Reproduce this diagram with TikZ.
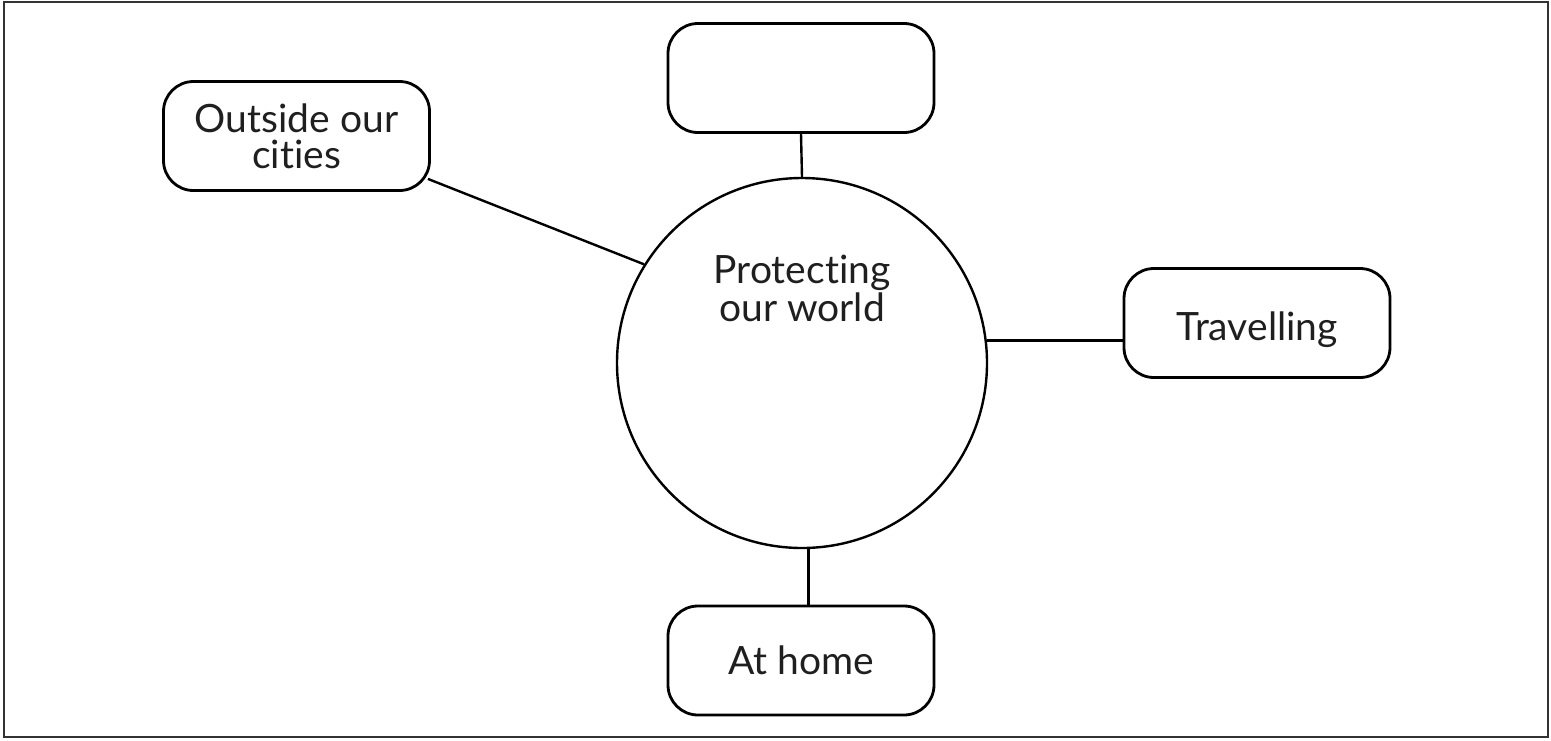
\documentclass[tikz,border=0pt]{standalone}
\usepackage{fontspec}
\setmainfont{Lato}[Ligatures={NoCommon,NoRare}]
\begin{document}
\begin{tikzpicture}[x=1pt,y=-1pt,
  lbl/.style={font=\fontsize{39}{36}\selectfont, text=black!88, align=center},
  bubble/.style={draw, line width=2.8pt, rounded corners=30pt, minimum width=266pt, minimum height=109pt, inner sep=0pt, lbl},
  conn/.style={line width=2.4pt}]
\useasboundingbox (0,0) rectangle (1551,740);
\draw[line width=2.6pt, black!80] (4,2) rectangle (1548,737);
\node[circle, draw, line width=2.4pt, minimum size=370pt, inner sep=0pt] (c) at (802,363) {};
\node[lbl, font=\fontsize{39}{38}\selectfont] (ct) at (802,288) {Protecting\\our world};
\node[bubble] (t) at (801,78) {};
\node[bubble] (l) at (296.5,136) {Outside our\\cities};
\node[bubble] (r) at (1257,323) {\raisebox{-17pt}[0pt][0pt]{Travelling}};
\node[bubble] (b) at (801,660.5) {At home};
\draw[conn] (t.south) -- (c.north);
\draw[conn] (c.7.77) -- (r.west |- c.7.77);
\draw[conn] (c.-88.45) -- (b.north -| c.-88.45);
\draw[conn] (c.148.35) -- ([xshift=-3pt,yshift=13pt]l.south east);
\end{tikzpicture}
\end{document}
